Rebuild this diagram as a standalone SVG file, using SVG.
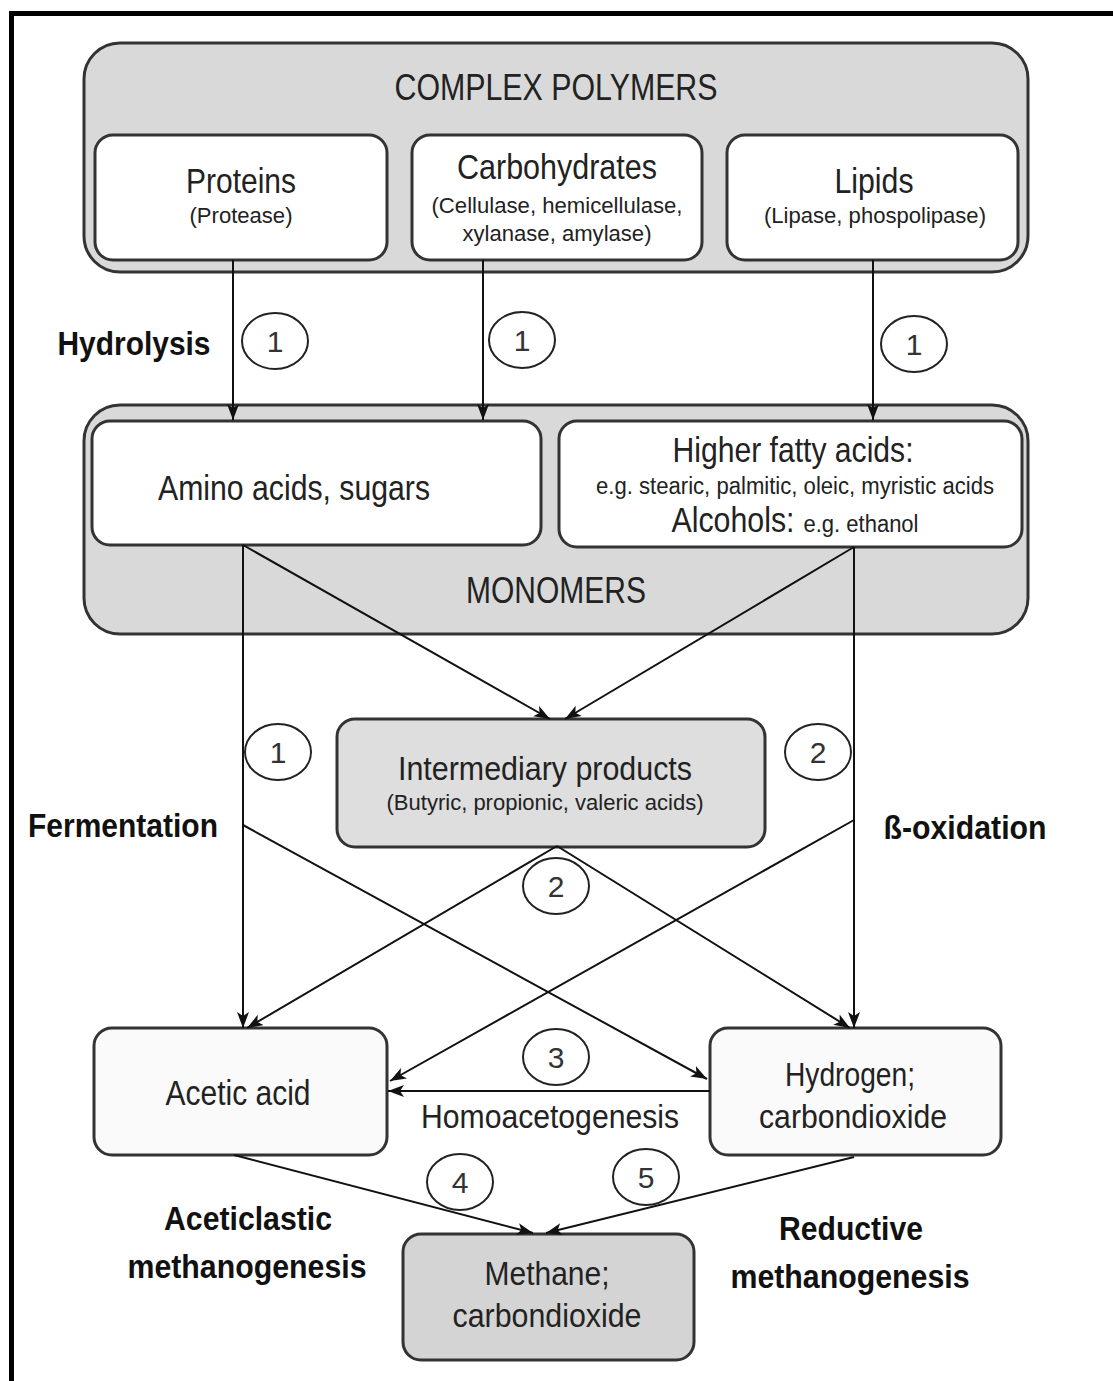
<svg xmlns="http://www.w3.org/2000/svg" width="1113" height="1381" viewBox="0 0 1113 1381">
<defs>
<style>
.t{font-family:"Liberation Sans",Arial,sans-serif;fill:#222;text-anchor:middle}
.b{font-family:"Liberation Sans",Arial,sans-serif;fill:#111;font-weight:bold;text-anchor:middle}
.n{font-family:"Liberation Sans",Arial,sans-serif;fill:#333;text-anchor:middle;font-size:30px}
.box{stroke:#333;stroke-width:3}
.circ{fill:none;stroke:#222;stroke-width:2}
.con{stroke:#111;stroke-width:2;fill:none;marker-end:url(#ah)}
</style>
<marker id="ah" markerUnits="userSpaceOnUse" markerWidth="18" markerHeight="14" refX="16" refY="6" orient="auto">
<path d="M0,0 L16,6 L0,12 L4,6 z" fill="#111"/>
</marker>
</defs>
<rect width="1113" height="1381" fill="#fff"/>
<rect x="9" y="11" width="1104" height="5" fill="#000"/>
<rect x="9" y="11" width="5" height="1370" fill="#000"/>

<g id="complex-polymers">
<rect class="box" x="84" y="43" width="944" height="229" rx="36" fill="#d9d9d9"/>
<text class="t" x="556" y="100" font-size="36" textLength="323" lengthAdjust="spacingAndGlyphs">COMPLEX POLYMERS</text>
</g>
<g id="proteins">
<rect class="box" x="95" y="135" width="292" height="125" rx="18" fill="#fff"/>
<text class="t" x="241" y="193" font-size="35" textLength="110" lengthAdjust="spacingAndGlyphs">Proteins</text>
<text class="t" x="241" y="223" font-size="22" textLength="103" lengthAdjust="spacingAndGlyphs">(Protease)</text>
</g>
<g id="carbohydrates">
<rect class="box" x="412" y="135" width="290" height="125" rx="18" fill="#fff"/>
<text class="t" x="557" y="179" font-size="35" textLength="200" lengthAdjust="spacingAndGlyphs">Carbohydrates</text>
<text class="t" x="557" y="213" font-size="22" textLength="251" lengthAdjust="spacingAndGlyphs">(Cellulase, hemicellulase,</text>
<text class="t" x="557" y="241" font-size="22" textLength="189" lengthAdjust="spacingAndGlyphs">xylanase, amylase)</text>
</g>
<g id="lipids">
<rect class="box" x="727" y="135" width="291" height="125" rx="18" fill="#fff"/>
<text class="t" x="874" y="193" font-size="35" textLength="79" lengthAdjust="spacingAndGlyphs">Lipids</text>
<text class="t" x="875" y="223" font-size="22" textLength="222" lengthAdjust="spacingAndGlyphs">(Lipase, phospolipase)</text>
</g>

<g id="monomers">
<rect class="box" x="84" y="405" width="944" height="229" rx="36" fill="#d9d9d9"/>
<text class="t" x="556" y="603" font-size="36" textLength="180" lengthAdjust="spacingAndGlyphs">MONOMERS</text>
</g>
<g id="amino-acids">
<rect class="box" x="92" y="421" width="449" height="124" rx="18" fill="#fff"/>
<text class="t" x="294" y="500" font-size="35" textLength="272" lengthAdjust="spacingAndGlyphs">Amino acids, sugars</text>
</g>
<g id="fatty-acids">
<rect class="box" x="559" y="421" width="463" height="126" rx="18" fill="#fff"/>
<text class="t" x="793" y="462" font-size="35" textLength="241" lengthAdjust="spacingAndGlyphs">Higher fatty acids:</text>
<text class="t" x="795" y="494" font-size="23" textLength="398" lengthAdjust="spacingAndGlyphs">e.g. stearic, palmitic, oleic, myristic acids</text>
<text class="t" x="733" y="532" font-size="35" textLength="123" lengthAdjust="spacingAndGlyphs">Alcohols:</text>
<text class="t" x="861" y="532" font-size="23" textLength="115" lengthAdjust="spacingAndGlyphs">e.g. ethanol</text>
</g>

<g id="intermediary">
<rect class="box" x="337" y="719" width="428" height="128" rx="18" fill="#dedede"/>
<text class="t" x="545" y="780" font-size="34" textLength="294" lengthAdjust="spacingAndGlyphs">Intermediary products</text>
<text class="t" x="545" y="810" font-size="22" textLength="317" lengthAdjust="spacingAndGlyphs">(Butyric, propionic, valeric acids)</text>
</g>

<g id="acetic-acid">
<rect class="box" x="94" y="1028" width="293" height="127" rx="18" fill="#fafafa"/>
<text class="t" x="238" y="1105" font-size="35" textLength="145" lengthAdjust="spacingAndGlyphs">Acetic acid</text>
</g>
<g id="hydrogen">
<rect class="box" x="710" y="1028" width="291" height="127" rx="18" fill="#fafafa"/>
<text class="t" x="850" y="1086" font-size="34" textLength="130" lengthAdjust="spacingAndGlyphs">Hydrogen;</text>
<text class="t" x="853" y="1128" font-size="34" textLength="188" lengthAdjust="spacingAndGlyphs">carbondioxide</text>
</g>
<g id="methane">
<rect class="box" x="403" y="1234" width="291" height="126" rx="18" fill="#d4d4d4"/>
<text class="t" x="547" y="1285" font-size="34" textLength="125" lengthAdjust="spacingAndGlyphs">Methane;</text>
<text class="t" x="547" y="1327" font-size="34" textLength="189" lengthAdjust="spacingAndGlyphs">carbondioxide</text>
</g>

<g id="connectors">
<line class="con" x1="233" y1="260" x2="233" y2="420"/>
<line class="con" x1="483" y1="260" x2="483" y2="420"/>
<line class="con" x1="873" y1="260" x2="873" y2="420"/>
<line class="con" x1="243" y1="545" x2="243" y2="1028"/>
<line class="con" x1="854" y1="547" x2="854" y2="1028"/>
<line class="con" x1="243" y1="545" x2="550" y2="719"/>
<line class="con" x1="854" y1="547" x2="565" y2="719"/>
<line class="con" x1="557" y1="846" x2="247" y2="1028"/>
<line class="con" x1="557" y1="846" x2="850" y2="1028"/>
<line class="con" x1="243" y1="825" x2="707" y2="1079"/>
<line class="con" x1="854" y1="820" x2="390" y2="1081"/>
<line class="con" x1="710" y1="1091" x2="388" y2="1091"/>
<line class="con" x1="234" y1="1155" x2="533" y2="1233"/>
<line class="con" x1="854" y1="1157" x2="546" y2="1233"/>
</g>

<g id="step-numbers">
<ellipse class="circ" cx="275" cy="341" rx="33" ry="28"/><text class="n" x="275" y="352">1</text>
<ellipse class="circ" cx="522" cy="340" rx="33" ry="28"/><text class="n" x="522" y="351">1</text>
<ellipse class="circ" cx="914" cy="344" rx="33" ry="28"/><text class="n" x="914" y="355">1</text>
<ellipse class="circ" cx="278" cy="752" rx="33" ry="28"/><text class="n" x="278" y="763">1</text>
<ellipse class="circ" cx="818" cy="752" rx="33" ry="28"/><text class="n" x="818" y="763">2</text>
<ellipse class="circ" cx="556" cy="886" rx="33" ry="28"/><text class="n" x="556" y="897">2</text>
<ellipse class="circ" cx="556" cy="1057" rx="33" ry="28"/><text class="n" x="556" y="1068">3</text>
<ellipse class="circ" cx="460" cy="1182" rx="33" ry="28"/><text class="n" x="460" y="1193">4</text>
<ellipse class="circ" cx="646" cy="1177" rx="33" ry="28"/><text class="n" x="646" y="1188">5</text>
</g>

<g id="labels">
<text class="b" x="134" y="355" font-size="34" textLength="153" lengthAdjust="spacingAndGlyphs">Hydrolysis</text>
<text class="b" x="123" y="837" font-size="34" textLength="190" lengthAdjust="spacingAndGlyphs">Fermentation</text>
<text class="b" x="965" y="839" font-size="34" textLength="163" lengthAdjust="spacingAndGlyphs">ß-oxidation</text>
<text class="t" x="550" y="1128" font-size="34" textLength="258" lengthAdjust="spacingAndGlyphs">Homoacetogenesis</text>
<text class="b" x="248" y="1230" font-size="33" textLength="168" lengthAdjust="spacingAndGlyphs">Aceticlastic</text>
<text class="b" x="247" y="1278" font-size="33" textLength="239" lengthAdjust="spacingAndGlyphs">methanogenesis</text>
<text class="b" x="851" y="1240" font-size="33" textLength="144" lengthAdjust="spacingAndGlyphs">Reductive</text>
<text class="b" x="850" y="1288" font-size="33" textLength="239" lengthAdjust="spacingAndGlyphs">methanogenesis</text>
</g>
</svg>
